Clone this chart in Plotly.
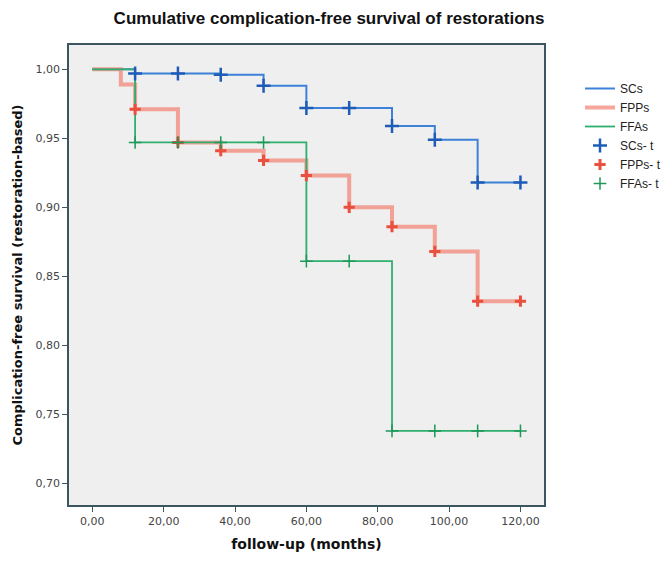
import plotly.graph_objects as go

# Step functions (Kaplan-Meier estimates)
sc_t = [0, 12, 36, 48, 60, 84, 96, 108, 120]
sc_s = [1.0, 0.997, 0.996, 0.988, 0.972, 0.959, 0.949, 0.918, 0.918]
fpp_t = [0, 8, 12, 24, 36, 48, 60, 72, 84, 96, 108, 120]
fpp_s = [1.0, 0.989, 0.971, 0.947, 0.941, 0.934, 0.923, 0.900, 0.886, 0.868, 0.832, 0.832]
ffa_t = [0, 12, 60, 84, 120]
ffa_s = [1.0, 0.947, 0.861, 0.738, 0.738]

# Censored observations
sc_ct = [12, 24, 36, 48, 60, 72, 84, 96, 108, 120]
sc_cs = [0.997, 0.997, 0.996, 0.988, 0.972, 0.972, 0.959, 0.949, 0.918, 0.918]
fpp_ct = [12, 24, 36, 48, 60, 72, 84, 96, 108, 120]
fpp_cs = [0.971, 0.947, 0.941, 0.934, 0.923, 0.900, 0.886, 0.868, 0.832, 0.832]
ffa_ct = [12, 24, 36, 48, 60, 72, 84, 96, 108, 120]
ffa_cs = [0.947, 0.947, 0.947, 0.947, 0.861, 0.861, 0.738, 0.738, 0.738, 0.738]

x_ticks = [0, 20, 40, 60, 80, 100, 120]
y_ticks = [0.70, 0.75, 0.80, 0.85, 0.90, 0.95, 1.00]

blue_line = "#3d82d8"
blue_mark = "#1f5cb8"
red_line = "rgba(242,128,112,0.7)"
red_mark = "#e9503e"
green_line = "#2fae6e"
green_mark = "#1c9858"

fig = go.Figure()
fig.add_trace(go.Scatter(x=sc_t, y=sc_s, mode="lines", name="SCs",
                         line=dict(color=blue_line, width=2, shape="hv")))
fig.add_trace(go.Scatter(x=fpp_t, y=fpp_s, mode="lines", name="FPPs",
                         line=dict(color=red_line, width=4, shape="hv")))
fig.add_trace(go.Scatter(x=ffa_t, y=ffa_s, mode="lines", name="FFAs",
                         line=dict(color=green_line, width=1.8, shape="hv")))
fig.add_trace(go.Scatter(x=sc_ct, y=sc_cs, mode="markers", name="SCs- t",
                         marker=dict(symbol="cross-thin", size=10,
                                     line=dict(color=blue_mark, width=2.5))))
fig.add_trace(go.Scatter(x=fpp_ct, y=fpp_cs, mode="markers", name="FPPs- t",
                         marker=dict(symbol="cross-thin", size=8,
                                     line=dict(color=red_mark, width=3))))
fig.add_trace(go.Scatter(x=ffa_ct, y=ffa_cs, mode="markers", name="FFAs- t",
                         marker=dict(symbol="cross-thin", size=9,
                                     line=dict(color=green_mark, width=1.5))))

axis_line = "#3b5661"
fig.update_layout(
    width=668, height=562,
    margin=dict(l=69, r=124, t=45, b=57),
    paper_bgcolor="white", plot_bgcolor="#efefef",
    separators=", ",
    title=dict(text="<b>Cumulative complication-free survival of restorations</b>",
               x=329 / 668, xanchor="center", y=1 - 18 / 562, yanchor="middle",
               font=dict(family="Liberation Sans", size=17, color="#111")),
    showlegend=True,
    legend=dict(xref="container", yref="container", x=580 / 668, y=1 - 74 / 562,
                xanchor="left", yanchor="top", bgcolor="rgba(0,0,0,0)",
                font=dict(family="Liberation Sans", size=12, color="#222"),
                itemwidth=30, tracegroupgap=0),
    xaxis=dict(range=[-6.53, 126.6], tickvals=x_ticks, tickformat=".2f",
               showgrid=False, zeroline=False, showline=True, mirror=True,
               linecolor=axis_line, linewidth=1.5, ticks="outside", ticklen=5,
               tickcolor=axis_line, tickwidth=1.2,
               tickfont=dict(family="DejaVu Sans", size=11, color="#444"),
               title=dict(text="<b>follow-up (months)</b>", standoff=12,
                          font=dict(family="DejaVu Sans", size=14, color="#111"))),
    yaxis=dict(range=[0.6843, 1.0176], tickvals=y_ticks, tickformat=".2f",
               showgrid=False, zeroline=False, showline=True, mirror=True,
               linecolor=axis_line, linewidth=1.5, ticks="outside", ticklen=5,
               tickcolor=axis_line, tickwidth=1.2,
               tickfont=dict(family="DejaVu Sans", size=11, color="#444"),
               title=dict(text="<b>Complication-free survival (restoration-based)</b>",
                          standoff=10,
                          font=dict(family="DejaVu Sans", size=13, color="#111"))),
)

fig.write_html("out.html")
